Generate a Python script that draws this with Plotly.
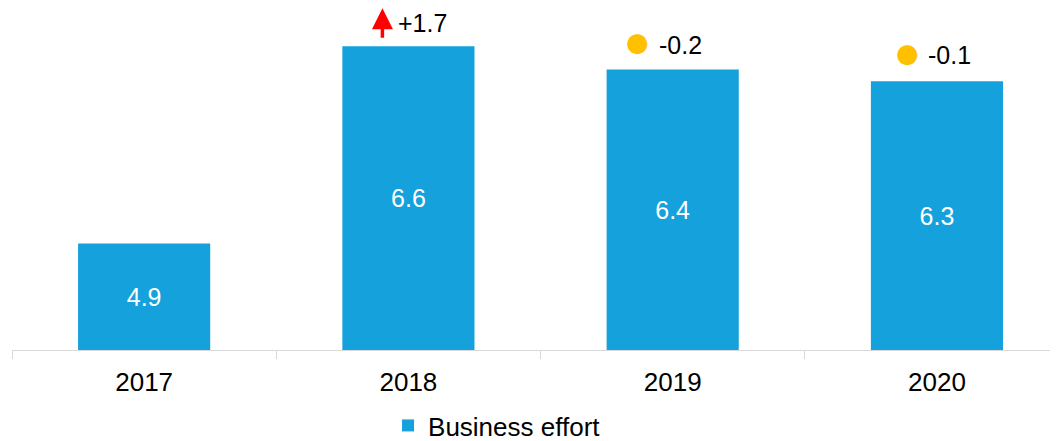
import plotly.graph_objects as go

years = ["2017", "2018", "2019", "2020"]
business_effort = [4.9, 6.6, 6.4, 6.3]
change_labels = [None, "+1.7", "-0.2", "-0.1"]
change_icons = [None, "up", "flat", "flat"]

BLUE = "#14A1DC"
FONT = "Liberation Sans, Arial, sans-serif"
Y_MIN, Y_MAX = 3.98, 6.931

fig = go.Figure()
fig.add_trace(go.Bar(
    x=years, y=[v - Y_MIN for v in business_effort], base=Y_MIN,
    customdata=business_effort, name="Business effort",
    marker=dict(color=BLUE, line=dict(width=0)),
    texttemplate="%{customdata:.1f}", textposition="inside", insidetextanchor="middle",
    textangle=0, textfont=dict(color="white", size=25, family=FONT),
))

text_xshift = [0, -12, -16, -11]
text_yshift = [0, 23, 25, 26]
circle_xoff = [0, 0, -35, -29]
circle_yoff = [0, 0, 28, 28]
for i, (yr, v, lab, icon) in enumerate(zip(years, business_effort, change_labels, change_icons)):
    if lab is None:
        continue
    fig.add_annotation(x=i, y=v, xref="x", yref="y", text=lab, showarrow=False, xanchor="left",
                       yanchor="middle", xshift=text_xshift[i], yshift=text_yshift[i],
                       font=dict(size=25, color="black", family=FONT))
    if icon == "up":
        fig.add_annotation(x=i, y=v, xref="x", yref="y", text="", showarrow=True,
                           axref="pixel", ayref="pixel", ax=0, ay=31,
                           xshift=-26, yshift=38, arrowhead=2, arrowsize=1.2,
                           arrowwidth=3.5, arrowcolor="#FF0000", standoff=0)
    else:
        fig.add_annotation(x=i, y=v, xref="x", yref="y", text="\u25CF", showarrow=False,
                           xanchor="center", yanchor="middle", xshift=circle_xoff[i],
                           yshift=circle_yoff[i],
                           font=dict(size=26, color="#FFC000", family="DejaVu Sans"))

fig.update_layout(
    width=1050, height=433,
    margin=dict(l=4, r=0, t=0, b=91, autoexpand=False),
    paper_bgcolor="white", plot_bgcolor="white",
    bargap=0.5,
    showlegend=True,
    legend=dict(orientation="h", x=0.3595, xanchor="left", y=-0.2208, yanchor="middle",
                font=dict(size=26, color="black", family=FONT)),
    font=dict(family=FONT, color="black"),
)
fig.update_xaxes(type="category", range=[-0.5, 3.458], showline=True, linecolor="#D9D9D9",
                 linewidth=1.3, ticks="outside", tickson="boundaries", ticklen=8,
                 tickcolor="#D9D9D9", tickwidth=1.3, showgrid=False, automargin=False,
                 ticklabelstandoff=9,
                 tickfont=dict(size=26, color="black", family=FONT))
fig.update_yaxes(range=[Y_MIN, Y_MAX], visible=False, showgrid=False, zeroline=False)

fig.write_html("out.html")
